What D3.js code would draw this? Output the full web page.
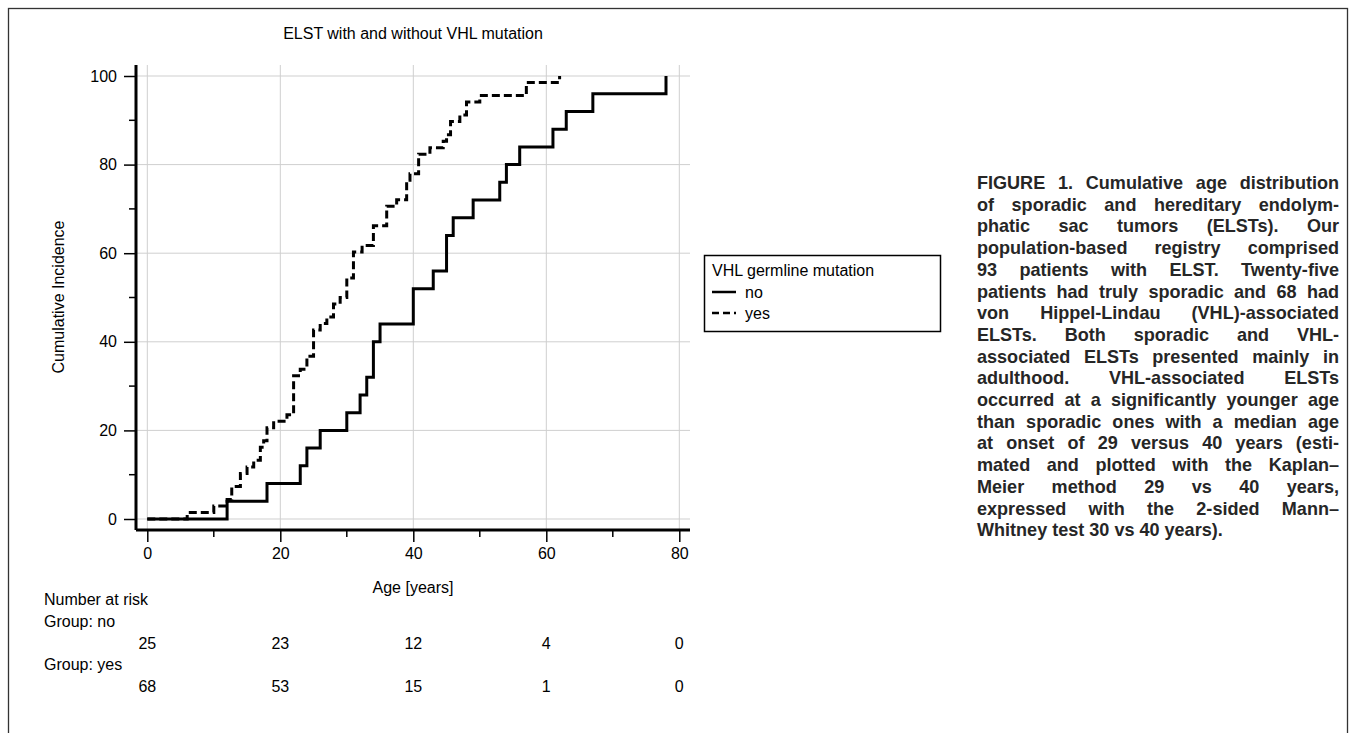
<!DOCTYPE html>
<html>
<head>
<meta charset="utf-8">
<script src="https://cdn.jsdelivr.net/npm/d3@7"></script>
<style>
  body { margin: 0; background: #fff; }
  svg { display: block; }
</style>
</head>
<body>
<script>
// data
const ageTicks = [0, 20, 40, 60, 80];
const incTicks = [0, 20, 40, 60, 80, 100];
const minorAge = [10, 30, 50, 70];
const minorInc = [10, 30, 50, 70, 90];

// ages at onset (years), one entry per patient
const agesNo = [12, 18, 23, 24, 26, 30, 32, 33, 34, 34, 35, 40, 40, 43, 45, 45, 46, 49,
  53, 54, 56, 61, 63, 67, 78];
const agesYes = [6, 10, 12, 12.7, 12.7, 14, 14, 15, 16, 17, 17, 17.5, 18, 18, 19, 21,
  22, 22, 22, 22, 22, 22, 23, 24, 24, 25, 25, 25, 25, 26, 27, 28, 28, 29, 30, 30, 30,
  31, 31, 31, 31, 32.3, 34, 34, 34, 36, 36, 36, 37.5, 39, 39, 39, 39.5, 40.8, 40.8, 40.8,
  42.5, 44.5, 45, 45.6, 45.6, 47, 48, 48, 50, 57, 57, 62];

const riskNo = [25, 23, 12, 4, 0];
const riskYes = [68, 53, 15, 1, 0];

const captionLines = [
  "FIGURE 1. Cumulative age distribution",
  "of sporadic and hereditary endolym-",
  "phatic sac tumors (ELSTs). Our",
  "population-based registry comprised",
  "93 patients with ELST. Twenty-five",
  "patients had truly sporadic and 68 had",
  "von Hippel-Lindau (VHL)-associated",
  "ELSTs. Both sporadic and VHL-",
  "associated ELSTs presented mainly in",
  "adulthood. VHL-associated ELSTs",
  "occurred at a significantly younger age",
  "than sporadic ones with a median age",
  "at onset of 29 versus 40 years (esti-",
  "mated and plotted with the Kaplan\u2013",
  "Meier method 29 vs 40 years,",
  "expressed with the 2-sided Mann\u2013",
  "Whitney test 30 vs 40 years)."
];

const width = 1351, height = 733;
const font = "'Liberation Sans', Arial, sans-serif";

const svg = d3.select("body").append("svg")
    .attr("width", width)
    .attr("height", height)
    .style("font-family", font);

// outer frame
svg.append("rect")
    .attr("x", 8.5).attr("y", 8.5)
    .attr("width", 1339).attr("height", 760)
    .attr("fill", "none")
    .attr("stroke", "#333")
    .attr("stroke-width", 1.3);

// plot box
const plot = {left: 136, right: 690, top: 65, bottom: 530};

const x = d3.scaleLinear().domain([0, 80]).range([147.3, 679.3]);
const y = d3.scaleLinear().domain([0, 100]).range([519, 76]);

// grid
svg.append("g").selectAll("line")
    .data(ageTicks).join("line")
    .attr("x1", d => x(d)).attr("x2", d => x(d))
    .attr("y1", plot.top).attr("y2", plot.bottom)
    .attr("stroke", "#cfcfcf").attr("stroke-width", 1);
svg.append("g").selectAll("line")
    .data(incTicks).join("line")
    .attr("x1", plot.left).attr("x2", plot.right)
    .attr("y1", d => y(d)).attr("y2", d => y(d))
    .attr("stroke", "#cfcfcf").attr("stroke-width", 1);

// axes
const xAxis = svg.append("g")
    .attr("transform", "translate(0," + plot.bottom + ")")
    .call(d3.axisBottom(x).tickValues(ageTicks).tickSize(12).tickPadding(6));
xAxis.select(".domain").attr("d", "M" + plot.left + ",0H" + plot.right);
xAxis.append("g").selectAll("line")
    .data(minorAge).join("line")
    .attr("x1", d => x(d)).attr("x2", d => x(d))
    .attr("y1", 0).attr("y2", 7)
    .attr("stroke", "#000").attr("stroke-width", 1.5);

const yAxis = svg.append("g")
    .attr("transform", "translate(" + plot.left + ",0)")
    .call(d3.axisLeft(y).tickValues(incTicks).tickSize(12).tickPadding(7));
yAxis.select(".domain").attr("d", "M0," + plot.top + "V" + plot.bottom);
yAxis.append("g").selectAll("line")
    .data(minorInc).join("line")
    .attr("y1", d => y(d)).attr("y2", d => y(d))
    .attr("x1", 0).attr("x2", -7)
    .attr("stroke", "#000").attr("stroke-width", 1.5);

[xAxis, yAxis].forEach(a => {
  a.select(".domain").attr("stroke", "#000").attr("stroke-width", 3);
  a.selectAll(".tick line").attr("stroke", "#000").attr("stroke-width", 1.5);
  a.selectAll(".tick text")
      .style("font-family", font)
      .style("font-size", "16px")
      .attr("fill", "#000");
});

// titles
svg.append("text")
    .attr("x", 413).attr("y", 39)
    .attr("text-anchor", "middle")
    .style("font-size", "16px")
    .text("ELST with and without VHL mutation");

svg.append("text")
    .attr("x", 413).attr("y", 593)
    .attr("text-anchor", "middle")
    .style("font-size", "16px")
    .text("Age [years]");

svg.append("text")
    .attr("transform", "translate(64,297) rotate(-90)")
    .attr("text-anchor", "middle")
    .style("font-size", "16px")
    .text("Cumulative Incidence");

// cumulative incidence step curves
function cumSteps(ages) {
  const n = ages.length;
  const counts = d3.rollups(ages, v => v.length, d => d).sort((a, b) => a[0] - b[0]);
  const pts = [[0, 0]];
  let c = 0;
  counts.forEach(([t, k]) => { c += k; pts.push([t, 100 * c / n]); });
  return pts;
}

const line = d3.line()
    .x(d => x(d[0]))
    .y(d => y(d[1]))
    .curve(d3.curveStepAfter);

svg.append("path")
    .datum(cumSteps(agesNo))
    .attr("d", line)
    .attr("fill", "none")
    .attr("stroke", "#000")
    .attr("stroke-width", 3);

svg.append("path")
    .datum(cumSteps(agesYes))
    .attr("d", line)
    .attr("fill", "none")
    .attr("stroke", "#000")
    .attr("stroke-width", 3)
    .attr("stroke-dasharray", "8,4");

// legend
const leg = svg.append("g").attr("transform", "translate(704,255)");
leg.append("rect")
    .attr("x", 0.5).attr("y", 0.5)
    .attr("width", 236).attr("height", 76)
    .attr("fill", "#fff")
    .attr("stroke", "#000").attr("stroke-width", 1.5);
leg.append("text")
    .attr("x", 8).attr("y", 21)
    .style("font-size", "16px")
    .text("VHL germline mutation");
const legItems = [["no", null], ["yes", "7,4"]];
legItems.forEach(([lab, dash], i) => {
  const yy = 37 + i * 21;
  leg.append("line")
      .attr("x1", 8).attr("x2", 32)
      .attr("y1", yy).attr("y2", yy)
      .attr("stroke", "#000").attr("stroke-width", 2.5)
      .attr("stroke-dasharray", dash);
  leg.append("text")
      .attr("x", 41).attr("y", yy + 6)
      .style("font-size", "16px")
      .text(lab);
});

// number at risk table
const risk = svg.append("g").style("font-size", "16px");
risk.append("text").attr("x", 44).attr("y", 605).text("Number at risk");
risk.append("text").attr("x", 44).attr("y", 627).text("Group: no");
risk.append("text").attr("x", 44).attr("y", 670).text("Group: yes");
risk.append("g").selectAll("text")
    .data(riskNo).join("text")
    .attr("x", (d, i) => x(ageTicks[i]))
    .attr("y", 649)
    .attr("text-anchor", "middle")
    .text(d => d);
risk.append("g").selectAll("text")
    .data(riskYes).join("text")
    .attr("x", (d, i) => x(ageTicks[i]))
    .attr("y", 692)
    .attr("text-anchor", "middle")
    .text(d => d);

// caption: condensed bold, justified word by word
const cap = {left: 977, right: 1339, top: 189, lead: 21.7, squeeze: 0.95};
const capG = svg.append("g")
    .style("font-family", "'Liberation Sans', Arial, sans-serif")
    .style("font-size", "19px")
    .style("font-weight", "bold")
    .attr("fill", "#262626");

captionLines.forEach((ln, i) => {
  const words = ln.split(" ");
  const yy = cap.top + i * cap.lead;
  const nodes = words.map(w => capG.append("text").attr("y", yy).text(w));
  const widths = nodes.map(n => n.node().getComputedTextLength() * cap.squeeze);
  nodes.forEach((n, j) => n.attr("textLength", widths[j]).attr("lengthAdjust", "spacingAndGlyphs"));
  const total = d3.sum(widths);
  const last = i === captionLines.length - 1;
  const gap = (last || words.length < 2)
      ? 5
      : Math.max(2.5, (cap.right - cap.left - total) / (words.length - 1));
  let xx = cap.left;
  nodes.forEach((n, j) => {
    n.attr("x", xx);
    xx += widths[j] + gap;
  });
});
</script>
</body>
</html>
